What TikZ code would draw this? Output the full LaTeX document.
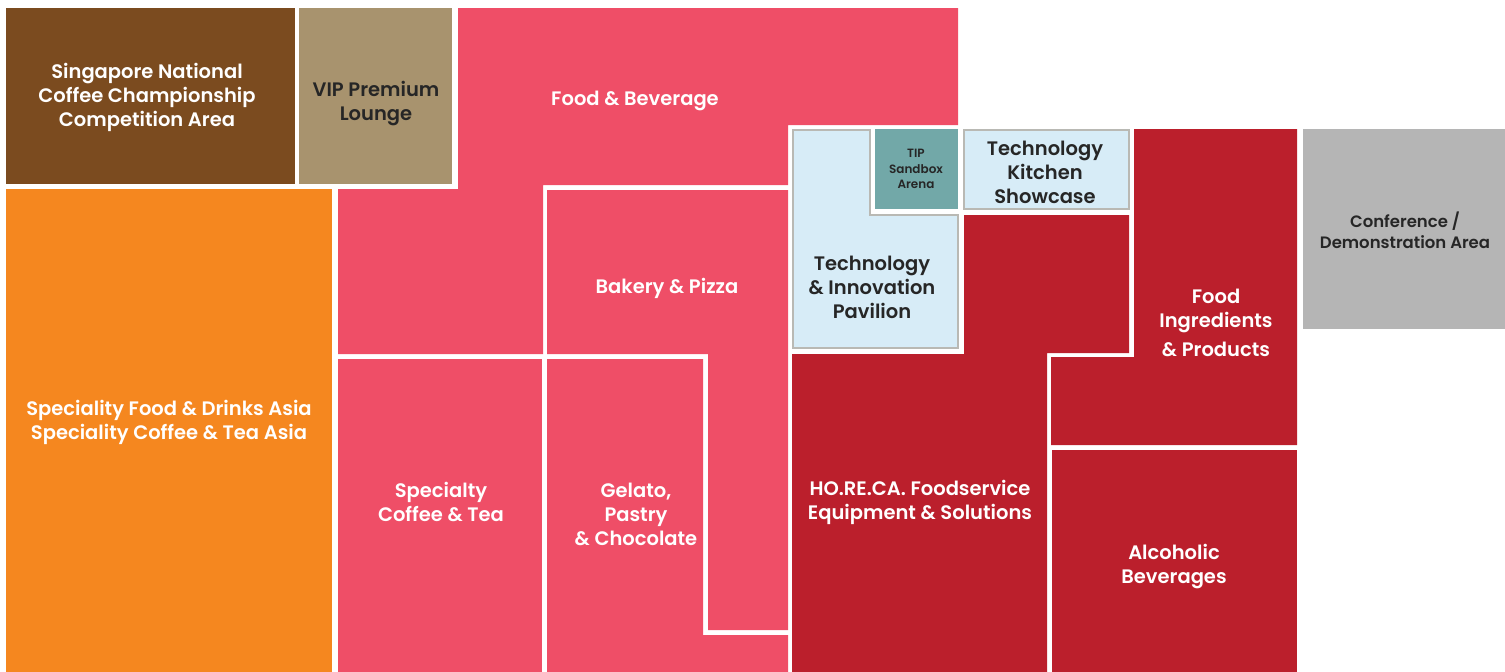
\documentclass[tikz,border=0pt]{standalone}
\usepackage{fontspec}
\setmainfont{Poppins}[UprightFont=* SemiBold]
\usetikzlibrary{positioning}
\definecolor{coffeebrown}{RGB}{123,75,31}
\definecolor{loungetan}{RGB}{168,147,110}
\definecolor{asiaorange}{RGB}{245,135,31}
\definecolor{fnbpink}{RGB}{239,78,103}
\definecolor{horecared}{RGB}{187,31,44}
\definecolor{techblue}{RGB}{215,236,247}
\definecolor{sandteal}{RGB}{114,168,168}
\definecolor{confgrey}{RGB}{181,181,181}
\definecolor{rimgrey}{RGB}{185,185,180}
\definecolor{inkgrey}{RGB}{38,38,38}

\begin{document}
\begin{tikzpicture}[x=1pt,y=-1pt,
  lbl/.style={align=center,font=\fontsize{19.5}{24}\selectfont,text=white},
  darklbl/.style={lbl,text=inkgrey},
  rim/.style={draw=rimgrey,line width=1.2pt}
]
\useasboundingbox (0,0) rectangle (1505,672);

% west wing
\fill[coffeebrown] (6,8) rectangle (295,184);
\fill[loungetan] (299,8) rectangle (452,184);
\fill[asiaorange] (6,189) rectangle (332,672);

% food & beverage block
\fill[fnbpink] (458,8) -- (958,8) -- (958,125) -- (788,125) -- (788,185)
  -- (543,185) -- (543,354) -- (338,354) -- (338,189) -- (458,189) -- cycle;
\fill[fnbpink] (547,190) -- (788,190) -- (788,630) -- (708,630)
  -- (708,354) -- (547,354) -- cycle;
\fill[fnbpink] (547,359) -- (703,359) -- (703,635) -- (788,635)
  -- (788,672) -- (547,672) -- cycle;
\fill[fnbpink] (338,359) rectangle (542,672);

% technology pavilion
\filldraw[fill=techblue,rim] (793,130) -- (870,130) -- (870,215) -- (958,215)
  -- (958,348) -- (793,348) -- cycle;
\fill[sandteal] (875,129) rectangle (958,209);
\filldraw[fill=techblue,rim] (964,130) rectangle (1129,209);

% horeca, ingredients, alcohol
\fill[horecared] (964,215) -- (1129,215) -- (1129,353) -- (1047,353)
  -- (1047,672) -- (792,672) -- (792,354) -- (964,354) -- cycle;
\fill[horecared] (1134,129) -- (1297,129) -- (1297,445) -- (1051,445)
  -- (1051,357) -- (1134,357) -- cycle;
\fill[horecared] (1052,450) rectangle (1297,672);

% east end
\fill[confgrey] (1303,129) rectangle (1505,329);

% labels
\node[lbl] (sncc) at (147,97) {Singapore National\\Coffee Championship\\Competition Area};
\node[darklbl] (vip) at (376,104) {VIP Premium\\Lounge};
\node[lbl] (fnb) at (635,101) {Food \& Beverage};
\node[lbl] (sfda) at (169,422) {Speciality Food \& Drinks Asia\\Speciality Coffee \& Tea Asia};
\node[lbl] (bakery) at (667,288) {Bakery \& Pizza};
\node[lbl] (coffee) at (441,502) {Specialty\\Coffee \& Tea};
\node[lbl] (gelato) at (636,514) {Gelato,\\Pastry\\\& Chocolate};
\node[darklbl] (tip) at (872,287) {Technology\\\& Innovation\\Pavilion};
\node[darklbl,font=\fontsize{12}{15.5}\selectfont] (sandbox) at (916,169) {TIP\\Sandbox\\Arena};
\node[darklbl] (kitchen) at (1045,172) {Technology\\Kitchen\\Showcase};
\node[lbl] (horeca) at (920,502) {HO.RE.CA. Foodservice\\Equipment \& Solutions};
\node[lbl] (ingred) at (1216,323) {Food\\Ingredients\\[5pt]\& Products};
\node[lbl] (alcohol) at (1174,567) {Alcoholic\\Beverages};
\node[darklbl,font=\fontsize{16.5}{21}\selectfont] (conf) at (1405,230) {Conference /\\Demonstration Area};
\end{tikzpicture}
\end{document}
